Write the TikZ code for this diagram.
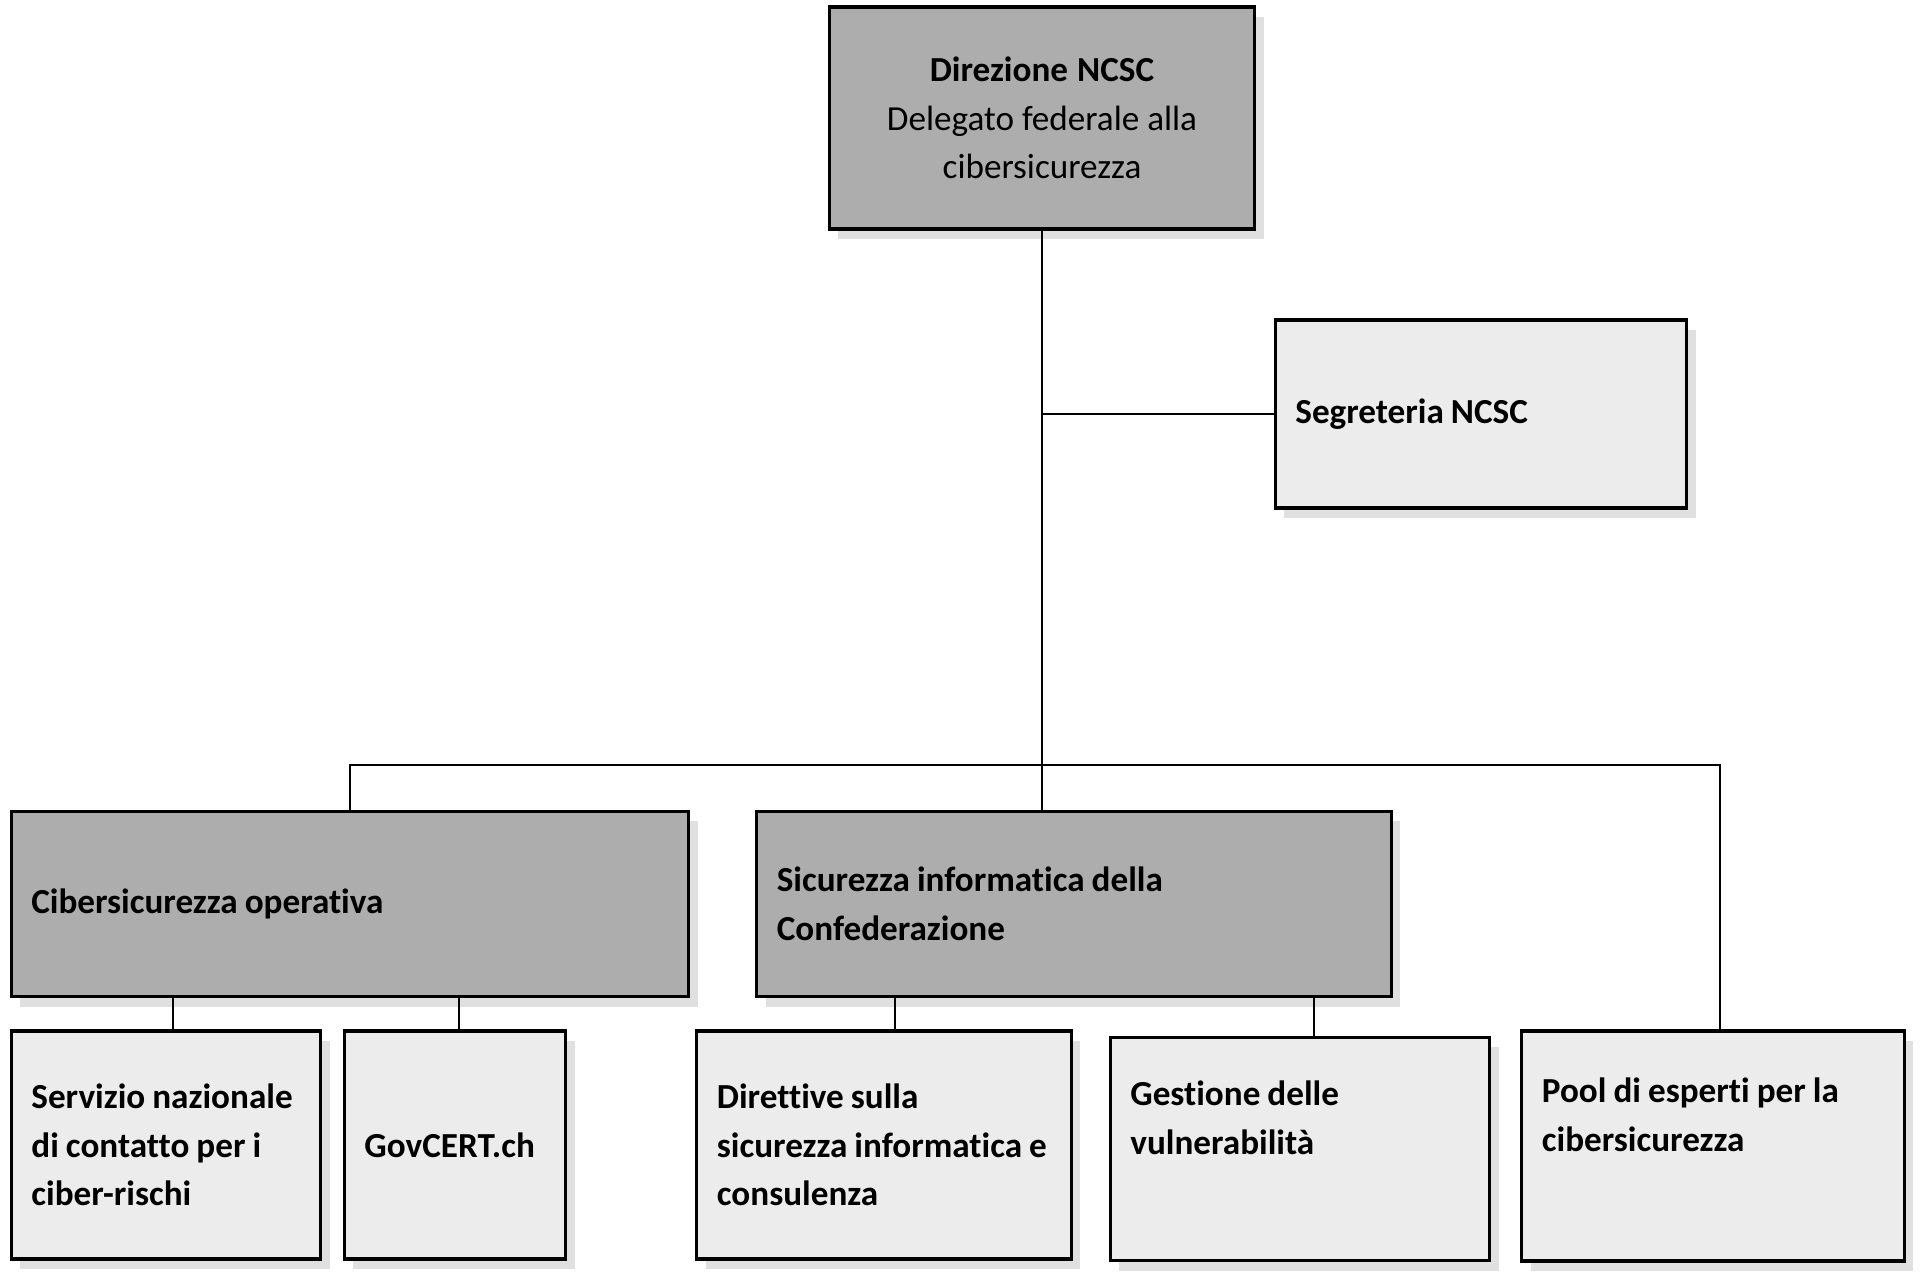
\documentclass[tikz,border=0pt]{standalone}
\usepackage{fontspec}
\setmainfont{Carlito}[RawFeature={-liga;-calt;-clig}]
\usepackage{tikz}
\usetikzlibrary{shadows, calc}
\definecolor{headgray}{RGB}{173,173,173}
\definecolor{unitgray}{RGB}{236,236,236}
\definecolor{shadowgray}{RGB}{224,224,224}
\tikzset{
  orgbox/.style={rectangle, draw=black, line width=0.9pt, inner xsep=0.2cm,
    inner ysep=0pt, align=left, font=\fontsize{10}{13.8}\selectfont\bfseries,
    execute at begin node={\spaceskip=0.2em plus 0.05em minus 0.03em\relax},
    drop shadow={shadow xshift=0.09cm, shadow yshift=-0.1cm, fill=shadowgray, opacity=1}},
  head/.style={orgbox, fill=headgray},
  unit/.style={orgbox, fill=unitgray},
  link/.style={line width=0.6pt, black},
}
\begin{document}
\begin{tikzpicture}[x=0.01cm, y=-0.01cm]
\useasboundingbox (0,0) rectangle (1920,1280);

\node[head, text width=3.85cm, minimum height=2.22cm, align=center] (dir) at (1042,118)
  {Direzione NCSC\\\mdseries Delegato federale alla\\\mdseries cibersicurezza};
\node[unit, text width=3.71cm, minimum height=1.88cm] (seg) at (1481,414) {Segreteria NCSC};

\node[head, text width=6.37cm, minimum height=1.85cm] (cop) at (350,904) {Cibersicurezza operativa};
\node[head, text width=5.94cm, minimum height=1.85cm] (sif) at (1074,904)
  {Sicurezza informatica della\\Confederazione};

\node[unit, text width=2.69cm, minimum height=2.28cm] (srv) at (166,1145)
  {Servizio nazionale\\di contatto per i\\ciber-rischi};
\node[unit, text width=1.81cm, minimum height=2.28cm] (gov) at (455,1145) {GovCERT.ch};
\node[unit, text width=3.34cm, minimum height=2.28cm] (drt) at (884,1145)
  {Direttive sulla\\sicurezza informatica e\\consulenza};
\node[unit, text width=3.39cm, minimum height=2.23cm] (ges) at (1300,1149)
  {Gestione delle\\vulnerabilità\\\strut};
\node[unit, text width=3.42cm, minimum height=2.30cm] (pool) at (1713,1146)
  {Pool di esperti per la\\cibersicurezza\\\strut};

% Connectors
\coordinate (bus) at (1042,765);
\draw[link] (dir.south) -- (dir.south |- sif.north);
\draw[link] (dir.south |- seg.west) -- (seg.west);
\draw[link] (cop.north) |- (bus) -| ([xshift=0.07cm]pool.north);
\draw[link] ([xshift=0.07cm]srv.north) -- ([xshift=0.07cm]srv.north |- cop.south);
\draw[link] ([xshift=0.04cm]gov.north) -- ([xshift=0.04cm]gov.north |- cop.south);
\draw[link] ([xshift=0.11cm]drt.north) -- ([xshift=0.11cm]drt.north |- sif.south);
\draw[link] ([xshift=0.14cm]ges.north) -- ([xshift=0.14cm]ges.north |- sif.south);

\end{tikzpicture}
\end{document}
